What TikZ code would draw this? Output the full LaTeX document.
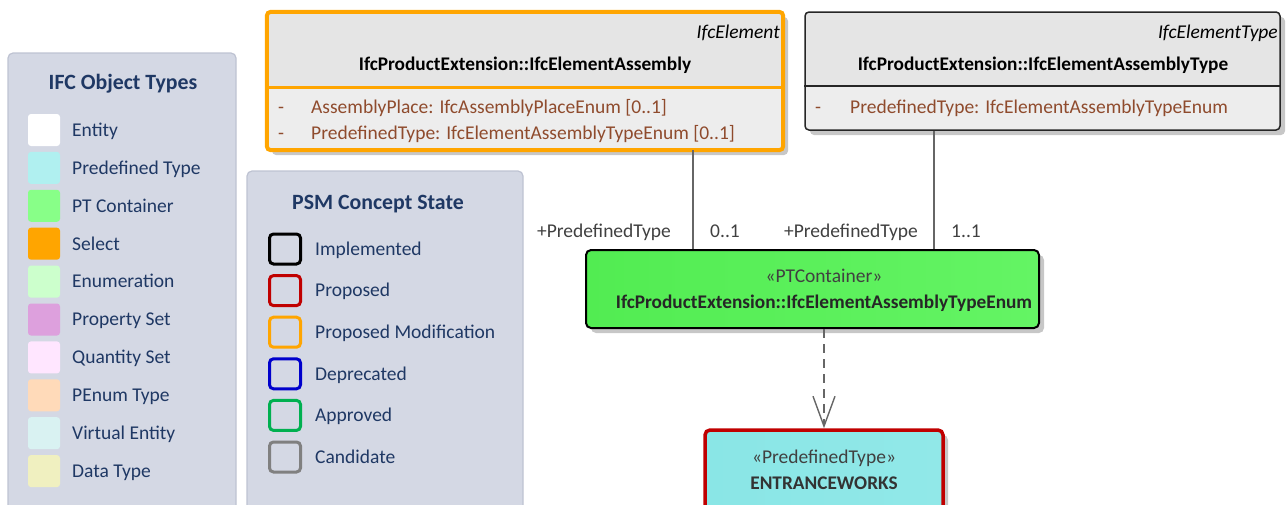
\documentclass[tikz,border=0pt]{standalone}
\usepackage{fontspec}
\setmainfont{Carlito}
\usetikzlibrary{arrows.meta,shadows}

\definecolor{legbg}{RGB}{212,216,228}
\definecolor{legline}{RGB}{190,195,210}
\definecolor{legtxt}{RGB}{31,56,100}
\definecolor{attrtxt}{RGB}{143,75,45}
\definecolor{ptype}{RGB}{176,240,240}
\definecolor{ptcont}{RGB}{136,255,136}
\definecolor{selectc}{RGB}{255,165,0}
\definecolor{enumc}{RGB}{204,255,204}
\definecolor{psetc}{RGB}{221,160,221}
\definecolor{qsetc}{RGB}{255,230,255}
\definecolor{penumc}{RGB}{255,218,185}
\definecolor{ventc}{RGB}{217,242,242}
\definecolor{dtypec}{RGB}{240,240,192}
\definecolor{propred}{RGB}{192,0,0}
\definecolor{depblue}{RGB}{0,0,204}
\definecolor{apgreen}{RGB}{0,176,80}
\definecolor{ptcleft}{RGB}{82,236,82}
\definecolor{ptcmid}{RGB}{150,255,150}
\definecolor{ptcright}{RGB}{100,244,100}
\definecolor{ptleft}{RGB}{138,230,230}
\definecolor{ptmid}{RGB}{180,242,242}
\definecolor{ptright}{RGB}{145,232,232}

\begin{document}
\begin{tikzpicture}[x=1pt, y=-1pt,
  txt/.style={font=\fontsize{19.5}{23}\selectfont, inner sep=0pt, text height=12.6pt, text depth=0pt},
  bold/.style={font=\fontsize{19.3}{23}\selectfont\bfseries},
  legtitle/.style={font=\fontsize{21.8}{26}\selectfont\bfseries, text=legtxt, inner sep=0pt},
  legtext/.style={txt, text=legtxt, anchor=west},
  legend/.style={draw=legline, fill=legbg, rounded corners=5pt, line width=1.2pt},
  swatch/.style={rounded corners=3pt, minimum width=32pt, minimum height=32pt, inner sep=0pt},
  statebox/.style={draw, rounded corners=4pt, line width=3pt, minimum width=31pt, minimum height=30pt, inner sep=0pt},
  classbox/.style={rounded corners=4pt, fill=black!7, inner sep=0pt,
    drop shadow={shadow xshift=5pt, shadow yshift=-5pt, fill=black!22, opacity=1}},
  attr/.style={txt, text=attrtxt, anchor=west},
  rolelabel/.style={txt, text=black!75},
  assoc/.style={draw=black!60, line width=1.2pt},
  depend/.style={draw=black!60, line width=1.6pt, dash pattern=on 9pt off 6pt,
    -{Straight Barb[length=30pt, width=22pt, line width=1.4pt]}}]

\useasboundingbox (0,0) rectangle (1286,504);
\clip (0,0) rectangle (1286,504);

% IFC object types legend
\node[legend, minimum width=228pt, minimum height=470pt] (objlegend) at (122,288) {};
\node[legtitle] (objtitle) at (123,84) {IFC Object Types};
\foreach \c/\t [count=\i] in {white/Entity, ptype/Predefined Type, ptcont/PT Container,
    selectc/Select, enumc/Enumeration, psetc/Property Set, qsetc/Quantity Set,
    penumc/PEnum Type, ventc/Virtual Entity, dtypec/Data Type}
{
  \node[swatch, fill=\c] (sw\i) at (44,{130+(\i-1)*37.9}) {};
  \node[legtext] (swt\i) at (72,{130+(\i-1)*37.9}) {\t};
}

% PSM concept state legend
\node[legend, minimum width=276pt, minimum height=350pt] (statelegend) at (385,346) {};
\node[legtitle] (statetitle) at (378,204) {PSM Concept State};
\foreach \c/\t [count=\i] in {black/Implemented, propred/Proposed, selectc/Proposed Modification,
    depblue/Deprecated, apgreen/Approved, black!50/Candidate}
{
  \node[statebox, draw=\c] (st\i) at (285,{249+(\i-1)*41.6}) {};
  \node[legtext] (stt\i) at (315,{249+(\i-1)*41.6}) {\t};
}
\node[statebox, line width=1.8pt] at (st1) {};

% element class
\node[classbox, minimum width=516pt, minimum height=138pt,
  path picture={\shade[left color=black!10, middle color=white, right color=black!10]
    (path picture bounding box.north west) rectangle ([yshift=-75pt]path picture bounding box.north east);}]
  (elem) at (525,81) {};
\draw[selectc, line width=4pt, rounded corners=4pt] (elem.north west) rectangle (elem.south east);
\draw[selectc, line width=3pt] (elem.west |- 0,87) -- (elem.east |- 0,87);
\node[txt, anchor=east, font=\fontsize{19.5}{23}\selectfont\itshape] (elemsuper) at (780,32) {IfcElement};
\node[txt, bold] (elemname) at (525,64) {IfcProductExtension::IfcElementAssembly};
\node[attr] (elemd1) at (278,107) {-};
\node[attr] (elema1) at (311,107) {AssemblyPlace: IfcAssemblyPlaceEnum [0..1]};
\node[attr] (elemd2) at (278,133) {-};
\node[attr] (elema2) at (311,133) {PredefinedType: IfcElementAssemblyTypeEnum [0..1]};

% element type class
\node[classbox, draw=black!85, line width=1.5pt, minimum width=475pt, minimum height=118pt,
  path picture={\shade[left color=black!10, middle color=white, right color=black!10]
    (path picture bounding box.north west) rectangle ([yshift=-74pt]path picture bounding box.north east);}]
  (etype) at (1042.5,71) {};
\draw[black!85, line width=1.5pt] (etype.west |- 0,86) -- (etype.east |- 0,86);
\node[txt, anchor=east, font=\fontsize{19.5}{23}\selectfont\itshape] (etypesuper) at (1278,32) {IfcElementType};
\node[txt, bold] (etypename) at (1043,64) {IfcProductExtension::IfcElementAssemblyType};
\node[attr] (etyped1) at (815,107) {-};
\node[attr] (etypea1) at (850,107) {PredefinedType: IfcElementAssemblyTypeEnum};

% PT container
\node[draw=black, line width=2pt, rounded corners=5pt, minimum width=453pt, minimum height=78pt,
  left color=ptcleft, middle color=ptcmid, right color=ptcright,
  drop shadow={shadow xshift=5pt, shadow yshift=-5pt, fill=black!22, opacity=1}]
  (ptc) at (812.5,289) {};
\node[txt, text=black!75] (ptcster) at (824,276) {«PTContainer»};
\node[txt, bold, text=black!85] (ptcname) at (824,302) {IfcProductExtension::IfcElementAssemblyTypeEnum};

% predefined type
\node[draw=propred, line width=3.5pt, rounded corners=5pt, minimum width=238pt, minimum height=92pt,
  left color=ptleft, middle color=ptmid, right color=ptright,
  drop shadow={shadow xshift=5pt, shadow yshift=-5pt, fill=black!22, opacity=1}]
  (entw) at (824,476) {};
\node[txt, text=black!75] (entwster) at (824,457) {«PredefinedType»};
\node[txt, bold, text=black!80] (entwname) at (824,483) {ENTRANCEWORKS};

% connectors
\path[assoc] (elem.south -| 693,0) -- (ptc.north -| 693,0);
\path[assoc] (etype.south -| 934,0) -- (ptc.north -| 934,0);
\node[rolelabel, anchor=east] (role1) at (671,231) {+PredefinedType};
\node[rolelabel, anchor=west] (mult1) at (710,231) {0..1};
\node[rolelabel, anchor=east] (role2) at (918,231) {+PredefinedType};
\node[rolelabel, anchor=west] (mult2) at (951,231) {1..1};
\path[depend] (ptc.south -| entw.north) -- (entw.north);
\end{tikzpicture}
\end{document}
